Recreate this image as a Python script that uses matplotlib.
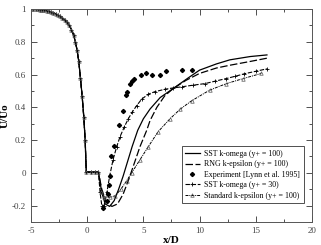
import matplotlib
matplotlib.use("Agg")
import matplotlib.pyplot as plt
from matplotlib.ticker import MultipleLocator

# shared upstream profile (all models overlap here)
x_up = [-5.0, -4.8, -4.6, -4.4, -4.2, -4.0, -3.8, -3.6, -3.4, -3.2, -3.0, -2.8, -2.6,
        -2.4, -2.2, -2.0, -1.8, -1.6, -1.4, -1.2, -1.05, -0.9, -0.75, -0.6, -0.45,
        -0.3, -0.18, -0.08, 0.3, 0.7, 1.0]
y_up = [1.0, 1.0, 0.999, 0.998, 0.997, 0.995, 0.993, 0.99, 0.986, 0.982, 0.977, 0.971, 0.963,
        0.955, 0.945, 0.932, 0.918, 0.9, 0.875, 0.84, 0.80, 0.75, 0.68, 0.58, 0.47,
        0.34, 0.2, 0.005, 0.005, 0.005, 0.005]

# downstream parts
x_sst100 = [1.3, 1.6, 2.0, 2.4, 2.8, 3.2, 3.6, 4.0, 4.5, 5.0, 5.6, 6.5, 7.66, 9.0, 10.0, 11.5, 12.7, 14.5, 16.0]
y_sst100 = [-0.12, -0.19, -0.205, -0.17, -0.1, -0.02, 0.07, 0.16, 0.26, 0.33, 0.39, 0.46, 0.515, 0.58, 0.627, 0.665, 0.69, 0.71, 0.72]

x_rng = [1.3, 1.7, 2.2, 2.7, 3.2, 3.7, 4.2, 4.7, 5.3, 5.6, 6.2, 6.9, 7.66, 8.8, 10.0, 11.5, 12.7, 14.5, 16.0]
y_rng = [-0.1, -0.18, -0.205, -0.19, -0.13, -0.04, 0.06, 0.16, 0.26, 0.32, 0.40, 0.47, 0.515, 0.565, 0.607, 0.64, 0.657, 0.68, 0.70]

x_sst30 = [1.15, 1.3, 1.5, 1.75, 2.0, 2.3, 2.62, 2.92, 3.3, 3.66, 4.0, 4.4, 4.85, 5.44, 6.0, 6.9,
           7.6, 8.4, 9.4, 10.5, 11.4, 12.4, 13.2, 14.0, 15.0, 16.0]
y_sst30 = [-0.12, -0.2, -0.2, -0.12, -0.02, 0.08, 0.158, 0.22, 0.28, 0.33, 0.37, 0.41, 0.45, 0.48, 0.495, 0.51,
           0.518, 0.525, 0.535, 0.545, 0.56, 0.576, 0.59, 0.605, 0.62, 0.635]

x_ke = [1.2, 1.5, 2.0, 2.5, 3.0, 3.5, 3.96, 4.7, 5.44, 6.3, 7.37, 8.3, 9.3, 10.9, 12.4, 13.9, 15.5]
y_ke = [-0.12, -0.145, -0.15, -0.14, -0.1, -0.05, 0.0, 0.08, 0.16, 0.25, 0.33, 0.39, 0.44, 0.505, 0.545, 0.576, 0.607]

x_exp = [1.43, 1.73, 1.82, 1.94, 2.03, 2.12, 2.41, 2.86, 3.21, 3.44, 3.55, 3.8, 4.0, 4.2,
         4.8, 5.24, 5.77, 6.5, 7.0, 8.4, 9.3]
y_exp = [-0.215, -0.17, -0.13, -0.077, -0.02, 0.10, 0.162, 0.29, 0.376, 0.478, 0.494, 0.545, 0.561, 0.576,
         0.596, 0.61, 0.596, 0.596, 0.623, 0.627, 0.627]

xticks = [-5, 0, 5, 10, 15, 20]
xticklabels = ["-5", "0", "5", "10", "15", "20"]
yticks = [-0.2, 0, 0.2, 0.4, 0.6, 0.8, 1.0]
yticklabels = ["-0.2", "0", "0.2", "0.4", "0.6", "0.8", "1"]

plt.rcParams['font.family'] = ['Liberation Serif', 'DejaVu Serif']

fig = plt.figure(figsize=(3.21, 2.45), dpi=100)
ax = fig.add_axes([0.0966, 0.094, 0.875, 0.869])

ax.plot(x_up + x_sst100, y_up + y_sst100, color='black', lw=0.9, ls='-',
        label='SST k-omega (y+ = 100)')
ax.plot(x_up + x_rng, y_up + y_rng, color='black', lw=0.9, ls=(0, (6, 2)),
        label='RNG k-epsilon (y+ = 100)')
ax.plot(x_exp, y_exp, ls='none', marker='D', ms=2.1, color='black',
        label='Experiment [Lynn et al. 1995]')
ax.plot(x_up + x_sst30, y_up + y_sst30, color='black', lw=0.8, ls=(0, (4, 1.5)),
        marker='+', ms=3.5, mew=0.6, label='SST k-omega (y+ = 30)')
ax.plot(x_up + x_ke, y_up + y_ke, color='black', lw=0.7, ls=(0, (3, 1, 1, 1)),
        marker='^', ms=2.5, mew=0.5, mfc='none', mec='#555555',
        label='Standard k-epsilon (y+ = 100)')

ax.set_xlim(-5, 20)
ax.set_ylim(-0.3, 1.0)
ax.set_xticks(xticks)
ax.set_xticklabels(xticklabels)
ax.set_yticks(yticks)
ax.set_yticklabels(yticklabels)
ax.xaxis.set_minor_locator(MultipleLocator(2.5))
ax.yaxis.set_minor_locator(MultipleLocator(0.1))
ax.tick_params(which='both', direction='in', top=True, right=True, labelsize=6.5,
               width=0.6, colors='#333333', labelcolor='#444444')
ax.tick_params(which='major', length=4)
ax.tick_params(which='minor', length=2)
for s in ax.spines.values():
    s.set_linewidth(0.7)
    s.set_color('#555555')

ax.set_xlabel('x/D', fontsize=8, fontweight='bold', labelpad=1)
ax.set_ylabel('U/Uo', fontsize=8, fontweight='bold', labelpad=2)

leg = ax.legend(loc='lower right', bbox_to_anchor=(0.985, 0.07), fontsize=5.7,
                frameon=True, fancybox=False, framealpha=1, edgecolor='#333333',
                handlelength=1.8, handletextpad=0.6, borderpad=0.45, labelspacing=0.3)
leg.get_frame().set_linewidth(0.6)

fig.savefig('out.png', dpi=100)
